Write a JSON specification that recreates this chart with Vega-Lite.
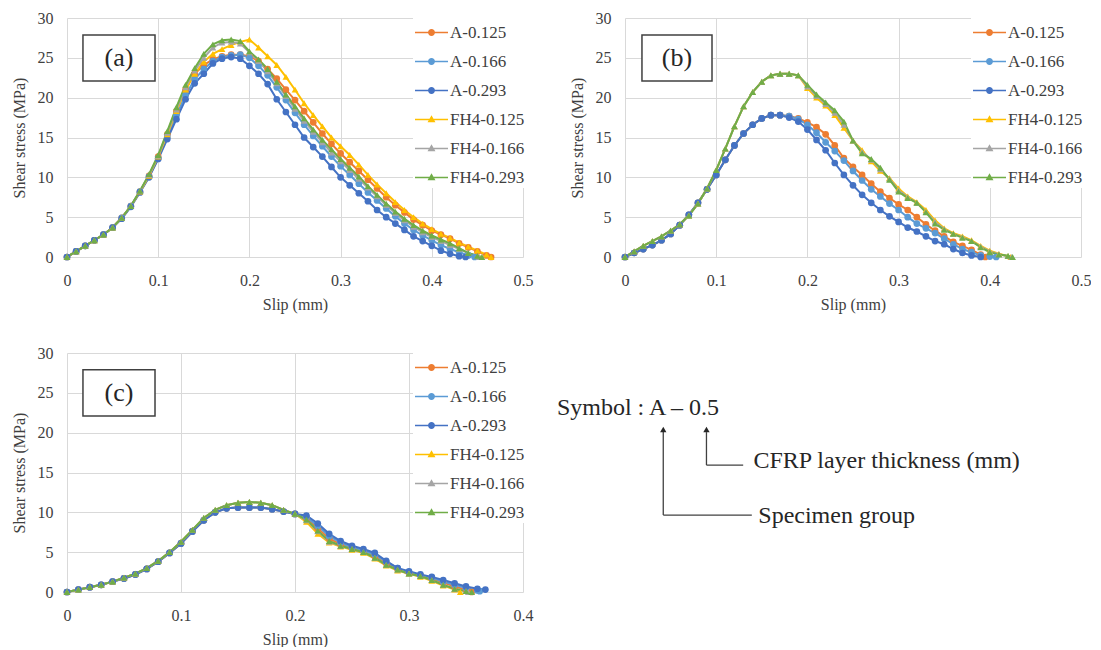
{
"$schema": "https://vega.github.io/schema/vega-lite/v6.json",
"background": "white",
"padding": {"left": 11, "top": 10, "right": 0, "bottom": 0},
"spacing": 33,
"resolve": {"scale": {"color": "independent", "shape": "independent"}, "legend": {"color": "independent", "shape": "independent"}},
"datasets": {
"a": [
{"s":"A-0.125","x":0,"y":0},{"s":"A-0.125","x":0.01,"y":0.7},{"s":"A-0.125","x":0.02,"y":1.4},{"s":"A-0.125","x":0.03,"y":2.1},{"s":"A-0.125","x":0.04,"y":2.8},{"s":"A-0.125","x":0.05,"y":3.7},{"s":"A-0.125","x":0.06,"y":4.9},{"s":"A-0.125","x":0.07,"y":6.4},{"s":"A-0.125","x":0.08,"y":8.2},{"s":"A-0.125","x":0.09,"y":10.2},{"s":"A-0.125","x":0.1,"y":12.6},{"s":"A-0.125","x":0.11,"y":15.4},{"s":"A-0.125","x":0.12,"y":18.3},{"s":"A-0.125","x":0.13,"y":21.0},{"s":"A-0.125","x":0.14,"y":23.0},{"s":"A-0.125","x":0.15,"y":24.1},{"s":"A-0.125","x":0.16,"y":24.8},{"s":"A-0.125","x":0.17,"y":25.2},{"s":"A-0.125","x":0.18,"y":25.4},{"s":"A-0.125","x":0.19,"y":25.4},{"s":"A-0.125","x":0.2,"y":25.2},{"s":"A-0.125","x":0.21,"y":24.6},{"s":"A-0.125","x":0.22,"y":23.6},{"s":"A-0.125","x":0.23,"y":22.4},{"s":"A-0.125","x":0.24,"y":21.0},{"s":"A-0.125","x":0.25,"y":19.7},{"s":"A-0.125","x":0.26,"y":18.3},{"s":"A-0.125","x":0.27,"y":16.9},{"s":"A-0.125","x":0.28,"y":15.5},{"s":"A-0.125","x":0.29,"y":14.2},{"s":"A-0.125","x":0.3,"y":13.0},{"s":"A-0.125","x":0.31,"y":11.9},{"s":"A-0.125","x":0.32,"y":10.8},{"s":"A-0.125","x":0.33,"y":9.7},{"s":"A-0.125","x":0.34,"y":8.6},{"s":"A-0.125","x":0.35,"y":7.5},{"s":"A-0.125","x":0.36,"y":6.5},{"s":"A-0.125","x":0.37,"y":5.6},{"s":"A-0.125","x":0.38,"y":4.7},{"s":"A-0.125","x":0.39,"y":4.0},{"s":"A-0.125","x":0.4,"y":3.3},{"s":"A-0.125","x":0.41,"y":2.8},{"s":"A-0.125","x":0.42,"y":2.3},{"s":"A-0.125","x":0.43,"y":1.7},{"s":"A-0.125","x":0.44,"y":1.2},{"s":"A-0.125","x":0.45,"y":0.7},{"s":"A-0.125","x":0.46,"y":0.2},{"s":"A-0.125","x":0.465,"y":0},
{"s":"A-0.166","x":0,"y":0},{"s":"A-0.166","x":0.01,"y":0.7},{"s":"A-0.166","x":0.02,"y":1.4},{"s":"A-0.166","x":0.03,"y":2.1},{"s":"A-0.166","x":0.04,"y":2.8},{"s":"A-0.166","x":0.05,"y":3.7},{"s":"A-0.166","x":0.06,"y":4.9},{"s":"A-0.166","x":0.07,"y":6.4},{"s":"A-0.166","x":0.08,"y":8.2},{"s":"A-0.166","x":0.09,"y":10.1},{"s":"A-0.166","x":0.1,"y":12.4},{"s":"A-0.166","x":0.11,"y":15.1},{"s":"A-0.166","x":0.12,"y":17.8},{"s":"A-0.166","x":0.13,"y":20.3},{"s":"A-0.166","x":0.14,"y":22.3},{"s":"A-0.166","x":0.15,"y":23.6},{"s":"A-0.166","x":0.16,"y":24.6},{"s":"A-0.166","x":0.17,"y":25.1},{"s":"A-0.166","x":0.18,"y":25.3},{"s":"A-0.166","x":0.19,"y":25.4},{"s":"A-0.166","x":0.2,"y":25.0},{"s":"A-0.166","x":0.21,"y":24.0},{"s":"A-0.166","x":0.22,"y":22.8},{"s":"A-0.166","x":0.23,"y":21.3},{"s":"A-0.166","x":0.24,"y":19.7},{"s":"A-0.166","x":0.25,"y":18.1},{"s":"A-0.166","x":0.26,"y":16.6},{"s":"A-0.166","x":0.27,"y":15.2},{"s":"A-0.166","x":0.28,"y":13.9},{"s":"A-0.166","x":0.29,"y":12.6},{"s":"A-0.166","x":0.3,"y":11.4},{"s":"A-0.166","x":0.31,"y":10.3},{"s":"A-0.166","x":0.32,"y":9.2},{"s":"A-0.166","x":0.33,"y":8.1},{"s":"A-0.166","x":0.34,"y":7.1},{"s":"A-0.166","x":0.35,"y":6.1},{"s":"A-0.166","x":0.36,"y":5.1},{"s":"A-0.166","x":0.37,"y":4.2},{"s":"A-0.166","x":0.38,"y":3.4},{"s":"A-0.166","x":0.39,"y":2.7},{"s":"A-0.166","x":0.4,"y":2.1},{"s":"A-0.166","x":0.41,"y":1.5},{"s":"A-0.166","x":0.42,"y":1.0},{"s":"A-0.166","x":0.43,"y":0.6},{"s":"A-0.166","x":0.44,"y":0.2},{"s":"A-0.166","x":0.447,"y":0},
{"s":"A-0.293","x":0,"y":0},{"s":"A-0.293","x":0.01,"y":0.7},{"s":"A-0.293","x":0.02,"y":1.4},{"s":"A-0.293","x":0.03,"y":2.1},{"s":"A-0.293","x":0.04,"y":2.8},{"s":"A-0.293","x":0.05,"y":3.7},{"s":"A-0.293","x":0.06,"y":4.8},{"s":"A-0.293","x":0.07,"y":6.3},{"s":"A-0.293","x":0.08,"y":8.1},{"s":"A-0.293","x":0.09,"y":10.0},{"s":"A-0.293","x":0.1,"y":12.3},{"s":"A-0.293","x":0.11,"y":14.8},{"s":"A-0.293","x":0.12,"y":17.3},{"s":"A-0.293","x":0.13,"y":19.8},{"s":"A-0.293","x":0.14,"y":21.8},{"s":"A-0.293","x":0.15,"y":23.0},{"s":"A-0.293","x":0.16,"y":24.3},{"s":"A-0.293","x":0.17,"y":24.9},{"s":"A-0.293","x":0.18,"y":25.1},{"s":"A-0.293","x":0.19,"y":24.9},{"s":"A-0.293","x":0.2,"y":24.0},{"s":"A-0.293","x":0.21,"y":23.0},{"s":"A-0.293","x":0.22,"y":21.7},{"s":"A-0.293","x":0.23,"y":19.8},{"s":"A-0.293","x":0.24,"y":18.2},{"s":"A-0.293","x":0.25,"y":16.6},{"s":"A-0.293","x":0.26,"y":15.0},{"s":"A-0.293","x":0.27,"y":13.8},{"s":"A-0.293","x":0.28,"y":12.6},{"s":"A-0.293","x":0.29,"y":11.3},{"s":"A-0.293","x":0.3,"y":10.0},{"s":"A-0.293","x":0.31,"y":9.0},{"s":"A-0.293","x":0.32,"y":8.0},{"s":"A-0.293","x":0.33,"y":7.0},{"s":"A-0.293","x":0.34,"y":5.9},{"s":"A-0.293","x":0.35,"y":5.0},{"s":"A-0.293","x":0.36,"y":4.2},{"s":"A-0.293","x":0.37,"y":3.4},{"s":"A-0.293","x":0.38,"y":2.6},{"s":"A-0.293","x":0.39,"y":2.0},{"s":"A-0.293","x":0.4,"y":1.4},{"s":"A-0.293","x":0.41,"y":0.8},{"s":"A-0.293","x":0.42,"y":0.4},{"s":"A-0.293","x":0.43,"y":0.1},{"s":"A-0.293","x":0.437,"y":0},
{"s":"FH4-0.125","x":0,"y":0},{"s":"FH4-0.125","x":0.01,"y":0.7},{"s":"FH4-0.125","x":0.02,"y":1.4},{"s":"FH4-0.125","x":0.03,"y":2.1},{"s":"FH4-0.125","x":0.04,"y":2.8},{"s":"FH4-0.125","x":0.05,"y":3.7},{"s":"FH4-0.125","x":0.06,"y":4.9},{"s":"FH4-0.125","x":0.07,"y":6.4},{"s":"FH4-0.125","x":0.08,"y":8.2},{"s":"FH4-0.125","x":0.09,"y":10.2},{"s":"FH4-0.125","x":0.1,"y":12.6},{"s":"FH4-0.125","x":0.11,"y":15.4},{"s":"FH4-0.125","x":0.12,"y":18.3},{"s":"FH4-0.125","x":0.13,"y":21.0},{"s":"FH4-0.125","x":0.14,"y":23.0},{"s":"FH4-0.125","x":0.15,"y":24.5},{"s":"FH4-0.125","x":0.16,"y":25.5},{"s":"FH4-0.125","x":0.17,"y":26.1},{"s":"FH4-0.125","x":0.18,"y":26.6},{"s":"FH4-0.125","x":0.19,"y":27.0},{"s":"FH4-0.125","x":0.2,"y":27.3},{"s":"FH4-0.125","x":0.21,"y":26.3},{"s":"FH4-0.125","x":0.22,"y":25.2},{"s":"FH4-0.125","x":0.23,"y":24.1},{"s":"FH4-0.125","x":0.24,"y":22.6},{"s":"FH4-0.125","x":0.25,"y":21.0},{"s":"FH4-0.125","x":0.26,"y":19.3},{"s":"FH4-0.125","x":0.27,"y":17.8},{"s":"FH4-0.125","x":0.28,"y":16.4},{"s":"FH4-0.125","x":0.29,"y":15.0},{"s":"FH4-0.125","x":0.3,"y":13.9},{"s":"FH4-0.125","x":0.31,"y":12.8},{"s":"FH4-0.125","x":0.32,"y":11.6},{"s":"FH4-0.125","x":0.33,"y":10.3},{"s":"FH4-0.125","x":0.34,"y":9.1},{"s":"FH4-0.125","x":0.35,"y":8.0},{"s":"FH4-0.125","x":0.36,"y":6.9},{"s":"FH4-0.125","x":0.37,"y":5.9},{"s":"FH4-0.125","x":0.38,"y":5.0},{"s":"FH4-0.125","x":0.39,"y":4.2},{"s":"FH4-0.125","x":0.4,"y":3.5},{"s":"FH4-0.125","x":0.41,"y":2.9},{"s":"FH4-0.125","x":0.42,"y":2.4},{"s":"FH4-0.125","x":0.43,"y":1.8},{"s":"FH4-0.125","x":0.44,"y":1.3},{"s":"FH4-0.125","x":0.45,"y":0.8},{"s":"FH4-0.125","x":0.46,"y":0.3},{"s":"FH4-0.125","x":0.465,"y":0},
{"s":"FH4-0.166","x":0,"y":0},{"s":"FH4-0.166","x":0.01,"y":0.7},{"s":"FH4-0.166","x":0.02,"y":1.4},{"s":"FH4-0.166","x":0.03,"y":2.1},{"s":"FH4-0.166","x":0.04,"y":2.8},{"s":"FH4-0.166","x":0.05,"y":3.7},{"s":"FH4-0.166","x":0.06,"y":4.9},{"s":"FH4-0.166","x":0.07,"y":6.4},{"s":"FH4-0.166","x":0.08,"y":8.3},{"s":"FH4-0.166","x":0.09,"y":10.3},{"s":"FH4-0.166","x":0.1,"y":12.7},{"s":"FH4-0.166","x":0.11,"y":15.6},{"s":"FH4-0.166","x":0.12,"y":18.5},{"s":"FH4-0.166","x":0.13,"y":21.3},{"s":"FH4-0.166","x":0.14,"y":23.4},{"s":"FH4-0.166","x":0.15,"y":25.0},{"s":"FH4-0.166","x":0.16,"y":26.3},{"s":"FH4-0.166","x":0.17,"y":26.9},{"s":"FH4-0.166","x":0.18,"y":27.0},{"s":"FH4-0.166","x":0.19,"y":26.8},{"s":"FH4-0.166","x":0.2,"y":25.7},{"s":"FH4-0.166","x":0.21,"y":24.6},{"s":"FH4-0.166","x":0.22,"y":23.3},{"s":"FH4-0.166","x":0.23,"y":21.8},{"s":"FH4-0.166","x":0.24,"y":20.2},{"s":"FH4-0.166","x":0.25,"y":18.6},{"s":"FH4-0.166","x":0.26,"y":17.1},{"s":"FH4-0.166","x":0.27,"y":15.7},{"s":"FH4-0.166","x":0.28,"y":14.4},{"s":"FH4-0.166","x":0.29,"y":13.1},{"s":"FH4-0.166","x":0.3,"y":12.0},{"s":"FH4-0.166","x":0.31,"y":10.9},{"s":"FH4-0.166","x":0.32,"y":9.8},{"s":"FH4-0.166","x":0.33,"y":8.7},{"s":"FH4-0.166","x":0.34,"y":7.6},{"s":"FH4-0.166","x":0.35,"y":6.5},{"s":"FH4-0.166","x":0.36,"y":5.5},{"s":"FH4-0.166","x":0.37,"y":4.6},{"s":"FH4-0.166","x":0.38,"y":3.8},{"s":"FH4-0.166","x":0.39,"y":3.1},{"s":"FH4-0.166","x":0.4,"y":2.5},{"s":"FH4-0.166","x":0.41,"y":2.0},{"s":"FH4-0.166","x":0.42,"y":1.5},{"s":"FH4-0.166","x":0.43,"y":1.0},{"s":"FH4-0.166","x":0.44,"y":0.5},{"s":"FH4-0.166","x":0.45,"y":0.1},{"s":"FH4-0.166","x":0.452,"y":0},
{"s":"FH4-0.293","x":0,"y":0},{"s":"FH4-0.293","x":0.01,"y":0.7},{"s":"FH4-0.293","x":0.02,"y":1.4},{"s":"FH4-0.293","x":0.03,"y":2.1},{"s":"FH4-0.293","x":0.04,"y":2.8},{"s":"FH4-0.293","x":0.05,"y":3.7},{"s":"FH4-0.293","x":0.06,"y":4.9},{"s":"FH4-0.293","x":0.07,"y":6.4},{"s":"FH4-0.293","x":0.08,"y":8.3},{"s":"FH4-0.293","x":0.09,"y":10.4},{"s":"FH4-0.293","x":0.1,"y":12.8},{"s":"FH4-0.293","x":0.11,"y":15.8},{"s":"FH4-0.293","x":0.12,"y":18.8},{"s":"FH4-0.293","x":0.13,"y":21.6},{"s":"FH4-0.293","x":0.14,"y":23.7},{"s":"FH4-0.293","x":0.15,"y":25.5},{"s":"FH4-0.293","x":0.16,"y":26.7},{"s":"FH4-0.293","x":0.17,"y":27.2},{"s":"FH4-0.293","x":0.18,"y":27.3},{"s":"FH4-0.293","x":0.19,"y":27.1},{"s":"FH4-0.293","x":0.2,"y":25.8},{"s":"FH4-0.293","x":0.21,"y":24.8},{"s":"FH4-0.293","x":0.22,"y":23.6},{"s":"FH4-0.293","x":0.23,"y":22.0},{"s":"FH4-0.293","x":0.24,"y":20.4},{"s":"FH4-0.293","x":0.25,"y":18.9},{"s":"FH4-0.293","x":0.26,"y":17.4},{"s":"FH4-0.293","x":0.27,"y":16.0},{"s":"FH4-0.293","x":0.28,"y":14.7},{"s":"FH4-0.293","x":0.29,"y":13.5},{"s":"FH4-0.293","x":0.3,"y":12.3},{"s":"FH4-0.293","x":0.31,"y":11.2},{"s":"FH4-0.293","x":0.32,"y":10.1},{"s":"FH4-0.293","x":0.33,"y":8.9},{"s":"FH4-0.293","x":0.34,"y":7.8},{"s":"FH4-0.293","x":0.35,"y":6.7},{"s":"FH4-0.293","x":0.36,"y":5.7},{"s":"FH4-0.293","x":0.37,"y":4.8},{"s":"FH4-0.293","x":0.38,"y":4.0},{"s":"FH4-0.293","x":0.39,"y":3.3},{"s":"FH4-0.293","x":0.4,"y":2.7},{"s":"FH4-0.293","x":0.41,"y":2.2},{"s":"FH4-0.293","x":0.42,"y":1.7},{"s":"FH4-0.293","x":0.43,"y":1.1},{"s":"FH4-0.293","x":0.44,"y":0.5},{"s":"FH4-0.293","x":0.45,"y":0.15},{"s":"FH4-0.293","x":0.455,"y":0}
],
"b": [
{"s":"A-0.125","x":0,"y":0},{"s":"A-0.125","x":0.01,"y":0.5},{"s":"A-0.125","x":0.02,"y":1.0},{"s":"A-0.125","x":0.03,"y":1.5},{"s":"A-0.125","x":0.04,"y":2.1},{"s":"A-0.125","x":0.05,"y":2.9},{"s":"A-0.125","x":0.06,"y":4.0},{"s":"A-0.125","x":0.07,"y":5.3},{"s":"A-0.125","x":0.08,"y":6.8},{"s":"A-0.125","x":0.09,"y":8.5},{"s":"A-0.125","x":0.1,"y":10.3},{"s":"A-0.125","x":0.11,"y":12.2},{"s":"A-0.125","x":0.12,"y":14.0},{"s":"A-0.125","x":0.13,"y":15.5},{"s":"A-0.125","x":0.14,"y":16.6},{"s":"A-0.125","x":0.15,"y":17.4},{"s":"A-0.125","x":0.16,"y":17.8},{"s":"A-0.125","x":0.17,"y":17.8},{"s":"A-0.125","x":0.18,"y":17.7},{"s":"A-0.125","x":0.19,"y":17.4},{"s":"A-0.125","x":0.2,"y":16.9},{"s":"A-0.125","x":0.21,"y":16.3},{"s":"A-0.125","x":0.22,"y":15.4},{"s":"A-0.125","x":0.23,"y":14.0},{"s":"A-0.125","x":0.24,"y":12.4},{"s":"A-0.125","x":0.25,"y":11.3},{"s":"A-0.125","x":0.26,"y":10.3},{"s":"A-0.125","x":0.27,"y":9.2},{"s":"A-0.125","x":0.28,"y":8.2},{"s":"A-0.125","x":0.29,"y":7.4},{"s":"A-0.125","x":0.3,"y":6.6},{"s":"A-0.125","x":0.31,"y":5.9},{"s":"A-0.125","x":0.32,"y":5.0},{"s":"A-0.125","x":0.33,"y":4.1},{"s":"A-0.125","x":0.34,"y":3.3},{"s":"A-0.125","x":0.35,"y":2.6},{"s":"A-0.125","x":0.36,"y":1.9},{"s":"A-0.125","x":0.37,"y":1.4},{"s":"A-0.125","x":0.38,"y":0.9},{"s":"A-0.125","x":0.39,"y":0.3},{"s":"A-0.125","x":0.395,"y":0},
{"s":"A-0.166","x":0,"y":0},{"s":"A-0.166","x":0.01,"y":0.5},{"s":"A-0.166","x":0.02,"y":1.0},{"s":"A-0.166","x":0.03,"y":1.5},{"s":"A-0.166","x":0.04,"y":2.1},{"s":"A-0.166","x":0.05,"y":2.9},{"s":"A-0.166","x":0.06,"y":4.0},{"s":"A-0.166","x":0.07,"y":5.3},{"s":"A-0.166","x":0.08,"y":6.8},{"s":"A-0.166","x":0.09,"y":8.5},{"s":"A-0.166","x":0.1,"y":10.3},{"s":"A-0.166","x":0.11,"y":12.2},{"s":"A-0.166","x":0.12,"y":14.0},{"s":"A-0.166","x":0.13,"y":15.5},{"s":"A-0.166","x":0.14,"y":16.6},{"s":"A-0.166","x":0.15,"y":17.4},{"s":"A-0.166","x":0.16,"y":17.8},{"s":"A-0.166","x":0.17,"y":17.8},{"s":"A-0.166","x":0.18,"y":17.7},{"s":"A-0.166","x":0.19,"y":17.3},{"s":"A-0.166","x":0.2,"y":16.6},{"s":"A-0.166","x":0.21,"y":15.6},{"s":"A-0.166","x":0.22,"y":14.4},{"s":"A-0.166","x":0.23,"y":13.3},{"s":"A-0.166","x":0.24,"y":12.1},{"s":"A-0.166","x":0.25,"y":10.8},{"s":"A-0.166","x":0.26,"y":9.6},{"s":"A-0.166","x":0.27,"y":8.5},{"s":"A-0.166","x":0.28,"y":7.6},{"s":"A-0.166","x":0.29,"y":6.7},{"s":"A-0.166","x":0.3,"y":5.9},{"s":"A-0.166","x":0.31,"y":5.0},{"s":"A-0.166","x":0.32,"y":4.2},{"s":"A-0.166","x":0.33,"y":3.6},{"s":"A-0.166","x":0.34,"y":3.0},{"s":"A-0.166","x":0.35,"y":2.3},{"s":"A-0.166","x":0.36,"y":1.6},{"s":"A-0.166","x":0.37,"y":1.0},{"s":"A-0.166","x":0.38,"y":0.6},{"s":"A-0.166","x":0.39,"y":0.2},{"s":"A-0.166","x":0.4,"y":0.05},{"s":"A-0.166","x":0.407,"y":0},
{"s":"A-0.293","x":0,"y":0},{"s":"A-0.293","x":0.01,"y":0.5},{"s":"A-0.293","x":0.02,"y":1.0},{"s":"A-0.293","x":0.03,"y":1.5},{"s":"A-0.293","x":0.04,"y":2.1},{"s":"A-0.293","x":0.05,"y":2.9},{"s":"A-0.293","x":0.06,"y":4.0},{"s":"A-0.293","x":0.07,"y":5.3},{"s":"A-0.293","x":0.08,"y":6.8},{"s":"A-0.293","x":0.09,"y":8.5},{"s":"A-0.293","x":0.1,"y":10.3},{"s":"A-0.293","x":0.11,"y":12.2},{"s":"A-0.293","x":0.12,"y":14.0},{"s":"A-0.293","x":0.13,"y":15.5},{"s":"A-0.293","x":0.14,"y":16.6},{"s":"A-0.293","x":0.15,"y":17.4},{"s":"A-0.293","x":0.16,"y":17.8},{"s":"A-0.293","x":0.17,"y":17.8},{"s":"A-0.293","x":0.18,"y":17.5},{"s":"A-0.293","x":0.19,"y":17.0},{"s":"A-0.293","x":0.2,"y":16.0},{"s":"A-0.293","x":0.21,"y":14.7},{"s":"A-0.293","x":0.22,"y":13.4},{"s":"A-0.293","x":0.23,"y":11.8},{"s":"A-0.293","x":0.24,"y":10.3},{"s":"A-0.293","x":0.25,"y":9.0},{"s":"A-0.293","x":0.26,"y":7.8},{"s":"A-0.293","x":0.27,"y":6.8},{"s":"A-0.293","x":0.28,"y":5.9},{"s":"A-0.293","x":0.29,"y":5.1},{"s":"A-0.293","x":0.3,"y":4.4},{"s":"A-0.293","x":0.31,"y":3.7},{"s":"A-0.293","x":0.32,"y":3.2},{"s":"A-0.293","x":0.33,"y":2.6},{"s":"A-0.293","x":0.34,"y":2.0},{"s":"A-0.293","x":0.35,"y":1.6},{"s":"A-0.293","x":0.36,"y":1.0},{"s":"A-0.293","x":0.37,"y":0.5},{"s":"A-0.293","x":0.38,"y":0.2},{"s":"A-0.293","x":0.39,"y":0},
{"s":"FH4-0.125","x":0,"y":0},{"s":"FH4-0.125","x":0.01,"y":0.7},{"s":"FH4-0.125","x":0.02,"y":1.4},{"s":"FH4-0.125","x":0.03,"y":2.0},{"s":"FH4-0.125","x":0.04,"y":2.6},{"s":"FH4-0.125","x":0.05,"y":3.3},{"s":"FH4-0.125","x":0.06,"y":4.1},{"s":"FH4-0.125","x":0.07,"y":5.2},{"s":"FH4-0.125","x":0.08,"y":6.7},{"s":"FH4-0.125","x":0.09,"y":8.6},{"s":"FH4-0.125","x":0.1,"y":10.9},{"s":"FH4-0.125","x":0.11,"y":13.6},{"s":"FH4-0.125","x":0.12,"y":16.4},{"s":"FH4-0.125","x":0.13,"y":18.9},{"s":"FH4-0.125","x":0.14,"y":20.7},{"s":"FH4-0.125","x":0.15,"y":22.0},{"s":"FH4-0.125","x":0.16,"y":22.8},{"s":"FH4-0.125","x":0.17,"y":23.0},{"s":"FH4-0.125","x":0.18,"y":23.0},{"s":"FH4-0.125","x":0.19,"y":22.8},{"s":"FH4-0.125","x":0.2,"y":21.2},{"s":"FH4-0.125","x":0.21,"y":20.0},{"s":"FH4-0.125","x":0.22,"y":19.0},{"s":"FH4-0.125","x":0.23,"y":17.8},{"s":"FH4-0.125","x":0.24,"y":16.2},{"s":"FH4-0.125","x":0.25,"y":14.6},{"s":"FH4-0.125","x":0.26,"y":13.4},{"s":"FH4-0.125","x":0.27,"y":12.0},{"s":"FH4-0.125","x":0.28,"y":10.8},{"s":"FH4-0.125","x":0.29,"y":9.9},{"s":"FH4-0.125","x":0.3,"y":8.6},{"s":"FH4-0.125","x":0.31,"y":7.6},{"s":"FH4-0.125","x":0.32,"y":6.9},{"s":"FH4-0.125","x":0.33,"y":5.9},{"s":"FH4-0.125","x":0.34,"y":4.6},{"s":"FH4-0.125","x":0.35,"y":3.6},{"s":"FH4-0.125","x":0.36,"y":3.0},{"s":"FH4-0.125","x":0.37,"y":2.6},{"s":"FH4-0.125","x":0.38,"y":2.1},{"s":"FH4-0.125","x":0.39,"y":1.4},{"s":"FH4-0.125","x":0.4,"y":0.8},{"s":"FH4-0.125","x":0.41,"y":0.4},{"s":"FH4-0.125","x":0.42,"y":0.1},{"s":"FH4-0.125","x":0.423,"y":0},
{"s":"FH4-0.166","x":0,"y":0},{"s":"FH4-0.166","x":0.01,"y":0.7},{"s":"FH4-0.166","x":0.02,"y":1.4},{"s":"FH4-0.166","x":0.03,"y":2.0},{"s":"FH4-0.166","x":0.04,"y":2.6},{"s":"FH4-0.166","x":0.05,"y":3.3},{"s":"FH4-0.166","x":0.06,"y":4.1},{"s":"FH4-0.166","x":0.07,"y":5.2},{"s":"FH4-0.166","x":0.08,"y":6.7},{"s":"FH4-0.166","x":0.09,"y":8.6},{"s":"FH4-0.166","x":0.1,"y":10.9},{"s":"FH4-0.166","x":0.11,"y":13.6},{"s":"FH4-0.166","x":0.12,"y":16.4},{"s":"FH4-0.166","x":0.13,"y":18.9},{"s":"FH4-0.166","x":0.14,"y":20.7},{"s":"FH4-0.166","x":0.15,"y":22.0},{"s":"FH4-0.166","x":0.16,"y":22.8},{"s":"FH4-0.166","x":0.17,"y":23.0},{"s":"FH4-0.166","x":0.18,"y":23.0},{"s":"FH4-0.166","x":0.19,"y":22.8},{"s":"FH4-0.166","x":0.2,"y":21.4},{"s":"FH4-0.166","x":0.21,"y":20.2},{"s":"FH4-0.166","x":0.22,"y":19.2},{"s":"FH4-0.166","x":0.23,"y":18.1},{"s":"FH4-0.166","x":0.24,"y":16.6},{"s":"FH4-0.166","x":0.25,"y":14.6},{"s":"FH4-0.166","x":0.26,"y":13.2},{"s":"FH4-0.166","x":0.27,"y":12.2},{"s":"FH4-0.166","x":0.28,"y":11.0},{"s":"FH4-0.166","x":0.29,"y":9.8},{"s":"FH4-0.166","x":0.3,"y":8.4},{"s":"FH4-0.166","x":0.31,"y":7.5},{"s":"FH4-0.166","x":0.32,"y":6.8},{"s":"FH4-0.166","x":0.33,"y":5.7},{"s":"FH4-0.166","x":0.34,"y":4.4},{"s":"FH4-0.166","x":0.35,"y":3.5},{"s":"FH4-0.166","x":0.36,"y":2.9},{"s":"FH4-0.166","x":0.37,"y":2.5},{"s":"FH4-0.166","x":0.38,"y":2.0},{"s":"FH4-0.166","x":0.39,"y":1.3},{"s":"FH4-0.166","x":0.4,"y":0.7},{"s":"FH4-0.166","x":0.41,"y":0.35},{"s":"FH4-0.166","x":0.42,"y":0.1},{"s":"FH4-0.166","x":0.424,"y":0},
{"s":"FH4-0.293","x":0,"y":0},{"s":"FH4-0.293","x":0.01,"y":0.7},{"s":"FH4-0.293","x":0.02,"y":1.4},{"s":"FH4-0.293","x":0.03,"y":2.0},{"s":"FH4-0.293","x":0.04,"y":2.6},{"s":"FH4-0.293","x":0.05,"y":3.3},{"s":"FH4-0.293","x":0.06,"y":4.1},{"s":"FH4-0.293","x":0.07,"y":5.2},{"s":"FH4-0.293","x":0.08,"y":6.7},{"s":"FH4-0.293","x":0.09,"y":8.6},{"s":"FH4-0.293","x":0.1,"y":10.9},{"s":"FH4-0.293","x":0.11,"y":13.6},{"s":"FH4-0.293","x":0.12,"y":16.4},{"s":"FH4-0.293","x":0.13,"y":18.9},{"s":"FH4-0.293","x":0.14,"y":20.7},{"s":"FH4-0.293","x":0.15,"y":22.0},{"s":"FH4-0.293","x":0.16,"y":22.8},{"s":"FH4-0.293","x":0.17,"y":23.0},{"s":"FH4-0.293","x":0.18,"y":23.0},{"s":"FH4-0.293","x":0.19,"y":22.8},{"s":"FH4-0.293","x":0.2,"y":21.6},{"s":"FH4-0.293","x":0.21,"y":20.4},{"s":"FH4-0.293","x":0.22,"y":19.4},{"s":"FH4-0.293","x":0.23,"y":18.4},{"s":"FH4-0.293","x":0.24,"y":17.0},{"s":"FH4-0.293","x":0.25,"y":14.6},{"s":"FH4-0.293","x":0.26,"y":13.0},{"s":"FH4-0.293","x":0.27,"y":12.3},{"s":"FH4-0.293","x":0.28,"y":11.2},{"s":"FH4-0.293","x":0.29,"y":9.7},{"s":"FH4-0.293","x":0.3,"y":8.2},{"s":"FH4-0.293","x":0.31,"y":7.4},{"s":"FH4-0.293","x":0.32,"y":6.8},{"s":"FH4-0.293","x":0.33,"y":5.6},{"s":"FH4-0.293","x":0.34,"y":4.2},{"s":"FH4-0.293","x":0.35,"y":3.4},{"s":"FH4-0.293","x":0.36,"y":2.9},{"s":"FH4-0.293","x":0.37,"y":2.4},{"s":"FH4-0.293","x":0.38,"y":2.0},{"s":"FH4-0.293","x":0.39,"y":1.2},{"s":"FH4-0.293","x":0.4,"y":0.6},{"s":"FH4-0.293","x":0.41,"y":0.3},{"s":"FH4-0.293","x":0.42,"y":0.15},{"s":"FH4-0.293","x":0.425,"y":0}
],
"c": [
{"s":"A-0.125","x":0,"y":0},{"s":"A-0.125","x":0.01,"y":0.3},{"s":"A-0.125","x":0.02,"y":0.6},{"s":"A-0.125","x":0.03,"y":0.9},{"s":"A-0.125","x":0.04,"y":1.3},{"s":"A-0.125","x":0.05,"y":1.7},{"s":"A-0.125","x":0.06,"y":2.2},{"s":"A-0.125","x":0.07,"y":2.9},{"s":"A-0.125","x":0.08,"y":3.8},{"s":"A-0.125","x":0.09,"y":4.9},{"s":"A-0.125","x":0.1,"y":6.1},{"s":"A-0.125","x":0.11,"y":7.6},{"s":"A-0.125","x":0.12,"y":9.0},{"s":"A-0.125","x":0.13,"y":10.0},{"s":"A-0.125","x":0.14,"y":10.5},{"s":"A-0.125","x":0.15,"y":10.6},{"s":"A-0.125","x":0.16,"y":10.6},{"s":"A-0.125","x":0.17,"y":10.6},{"s":"A-0.125","x":0.18,"y":10.4},{"s":"A-0.125","x":0.19,"y":10.1},{"s":"A-0.125","x":0.2,"y":9.8},{"s":"A-0.125","x":0.21,"y":9.3},{"s":"A-0.125","x":0.22,"y":8.0},{"s":"A-0.125","x":0.23,"y":6.7},{"s":"A-0.125","x":0.24,"y":6.0},{"s":"A-0.125","x":0.25,"y":5.5},{"s":"A-0.125","x":0.26,"y":5.1},{"s":"A-0.125","x":0.27,"y":4.5},{"s":"A-0.125","x":0.28,"y":3.6},{"s":"A-0.125","x":0.29,"y":2.9},{"s":"A-0.125","x":0.3,"y":2.4},{"s":"A-0.125","x":0.31,"y":2.1},{"s":"A-0.125","x":0.32,"y":1.7},{"s":"A-0.125","x":0.33,"y":1.2},{"s":"A-0.125","x":0.34,"y":0.7},{"s":"A-0.125","x":0.35,"y":0.3},{"s":"A-0.125","x":0.355,"y":0},
{"s":"A-0.166","x":0,"y":0},{"s":"A-0.166","x":0.01,"y":0.3},{"s":"A-0.166","x":0.02,"y":0.6},{"s":"A-0.166","x":0.03,"y":0.9},{"s":"A-0.166","x":0.04,"y":1.3},{"s":"A-0.166","x":0.05,"y":1.7},{"s":"A-0.166","x":0.06,"y":2.2},{"s":"A-0.166","x":0.07,"y":2.9},{"s":"A-0.166","x":0.08,"y":3.8},{"s":"A-0.166","x":0.09,"y":4.9},{"s":"A-0.166","x":0.1,"y":6.1},{"s":"A-0.166","x":0.11,"y":7.6},{"s":"A-0.166","x":0.12,"y":9.0},{"s":"A-0.166","x":0.13,"y":10.0},{"s":"A-0.166","x":0.14,"y":10.5},{"s":"A-0.166","x":0.15,"y":10.6},{"s":"A-0.166","x":0.16,"y":10.6},{"s":"A-0.166","x":0.17,"y":10.6},{"s":"A-0.166","x":0.18,"y":10.4},{"s":"A-0.166","x":0.19,"y":10.1},{"s":"A-0.166","x":0.2,"y":9.8},{"s":"A-0.166","x":0.21,"y":9.4},{"s":"A-0.166","x":0.22,"y":8.3},{"s":"A-0.166","x":0.23,"y":7.0},{"s":"A-0.166","x":0.24,"y":6.2},{"s":"A-0.166","x":0.25,"y":5.6},{"s":"A-0.166","x":0.26,"y":5.2},{"s":"A-0.166","x":0.27,"y":4.7},{"s":"A-0.166","x":0.28,"y":3.8},{"s":"A-0.166","x":0.29,"y":3.0},{"s":"A-0.166","x":0.3,"y":2.5},{"s":"A-0.166","x":0.31,"y":2.1},{"s":"A-0.166","x":0.32,"y":1.8},{"s":"A-0.166","x":0.33,"y":1.3},{"s":"A-0.166","x":0.34,"y":0.9},{"s":"A-0.166","x":0.35,"y":0.5},{"s":"A-0.166","x":0.36,"y":0.2},{"s":"A-0.166","x":0.362,"y":0.1},
{"s":"A-0.293","x":0,"y":0},{"s":"A-0.293","x":0.01,"y":0.3},{"s":"A-0.293","x":0.02,"y":0.6},{"s":"A-0.293","x":0.03,"y":0.9},{"s":"A-0.293","x":0.04,"y":1.3},{"s":"A-0.293","x":0.05,"y":1.7},{"s":"A-0.293","x":0.06,"y":2.2},{"s":"A-0.293","x":0.07,"y":2.9},{"s":"A-0.293","x":0.08,"y":3.8},{"s":"A-0.293","x":0.09,"y":4.9},{"s":"A-0.293","x":0.1,"y":6.1},{"s":"A-0.293","x":0.11,"y":7.6},{"s":"A-0.293","x":0.12,"y":9.0},{"s":"A-0.293","x":0.13,"y":10.0},{"s":"A-0.293","x":0.14,"y":10.5},{"s":"A-0.293","x":0.15,"y":10.6},{"s":"A-0.293","x":0.16,"y":10.6},{"s":"A-0.293","x":0.17,"y":10.6},{"s":"A-0.293","x":0.18,"y":10.4},{"s":"A-0.293","x":0.19,"y":10.1},{"s":"A-0.293","x":0.2,"y":9.8},{"s":"A-0.293","x":0.21,"y":9.6},{"s":"A-0.293","x":0.22,"y":8.6},{"s":"A-0.293","x":0.23,"y":7.3},{"s":"A-0.293","x":0.24,"y":6.4},{"s":"A-0.293","x":0.25,"y":5.8},{"s":"A-0.293","x":0.26,"y":5.4},{"s":"A-0.293","x":0.27,"y":4.9},{"s":"A-0.293","x":0.28,"y":3.9},{"s":"A-0.293","x":0.29,"y":3.0},{"s":"A-0.293","x":0.3,"y":2.6},{"s":"A-0.293","x":0.31,"y":2.2},{"s":"A-0.293","x":0.32,"y":1.9},{"s":"A-0.293","x":0.33,"y":1.5},{"s":"A-0.293","x":0.34,"y":1.1},{"s":"A-0.293","x":0.35,"y":0.7},{"s":"A-0.293","x":0.36,"y":0.4},{"s":"A-0.293","x":0.367,"y":0.3},
{"s":"FH4-0.125","x":0,"y":0},{"s":"FH4-0.125","x":0.01,"y":0.3},{"s":"FH4-0.125","x":0.02,"y":0.6},{"s":"FH4-0.125","x":0.03,"y":0.9},{"s":"FH4-0.125","x":0.04,"y":1.3},{"s":"FH4-0.125","x":0.05,"y":1.8},{"s":"FH4-0.125","x":0.06,"y":2.3},{"s":"FH4-0.125","x":0.07,"y":3.0},{"s":"FH4-0.125","x":0.08,"y":3.9},{"s":"FH4-0.125","x":0.09,"y":5.0},{"s":"FH4-0.125","x":0.1,"y":6.3},{"s":"FH4-0.125","x":0.11,"y":7.8},{"s":"FH4-0.125","x":0.12,"y":9.3},{"s":"FH4-0.125","x":0.13,"y":10.3},{"s":"FH4-0.125","x":0.14,"y":10.9},{"s":"FH4-0.125","x":0.15,"y":11.2},{"s":"FH4-0.125","x":0.16,"y":11.3},{"s":"FH4-0.125","x":0.17,"y":11.2},{"s":"FH4-0.125","x":0.18,"y":10.9},{"s":"FH4-0.125","x":0.19,"y":10.3},{"s":"FH4-0.125","x":0.2,"y":9.8},{"s":"FH4-0.125","x":0.21,"y":8.8},{"s":"FH4-0.125","x":0.22,"y":7.3},{"s":"FH4-0.125","x":0.23,"y":6.2},{"s":"FH4-0.125","x":0.24,"y":5.7},{"s":"FH4-0.125","x":0.25,"y":5.3},{"s":"FH4-0.125","x":0.26,"y":4.9},{"s":"FH4-0.125","x":0.27,"y":4.2},{"s":"FH4-0.125","x":0.28,"y":3.3},{"s":"FH4-0.125","x":0.29,"y":2.7},{"s":"FH4-0.125","x":0.3,"y":2.3},{"s":"FH4-0.125","x":0.31,"y":1.9},{"s":"FH4-0.125","x":0.32,"y":1.4},{"s":"FH4-0.125","x":0.33,"y":0.8},{"s":"FH4-0.125","x":0.34,"y":0.3},{"s":"FH4-0.125","x":0.345,"y":0},
{"s":"FH4-0.166","x":0,"y":0},{"s":"FH4-0.166","x":0.01,"y":0.3},{"s":"FH4-0.166","x":0.02,"y":0.6},{"s":"FH4-0.166","x":0.03,"y":0.9},{"s":"FH4-0.166","x":0.04,"y":1.3},{"s":"FH4-0.166","x":0.05,"y":1.8},{"s":"FH4-0.166","x":0.06,"y":2.3},{"s":"FH4-0.166","x":0.07,"y":3.0},{"s":"FH4-0.166","x":0.08,"y":3.9},{"s":"FH4-0.166","x":0.09,"y":5.0},{"s":"FH4-0.166","x":0.1,"y":6.3},{"s":"FH4-0.166","x":0.11,"y":7.8},{"s":"FH4-0.166","x":0.12,"y":9.3},{"s":"FH4-0.166","x":0.13,"y":10.3},{"s":"FH4-0.166","x":0.14,"y":10.9},{"s":"FH4-0.166","x":0.15,"y":11.2},{"s":"FH4-0.166","x":0.16,"y":11.3},{"s":"FH4-0.166","x":0.17,"y":11.2},{"s":"FH4-0.166","x":0.18,"y":10.9},{"s":"FH4-0.166","x":0.19,"y":10.3},{"s":"FH4-0.166","x":0.2,"y":9.8},{"s":"FH4-0.166","x":0.21,"y":9.0},{"s":"FH4-0.166","x":0.22,"y":7.6},{"s":"FH4-0.166","x":0.23,"y":6.3},{"s":"FH4-0.166","x":0.24,"y":5.8},{"s":"FH4-0.166","x":0.25,"y":5.4},{"s":"FH4-0.166","x":0.26,"y":5.0},{"s":"FH4-0.166","x":0.27,"y":4.3},{"s":"FH4-0.166","x":0.28,"y":3.4},{"s":"FH4-0.166","x":0.29,"y":2.8},{"s":"FH4-0.166","x":0.3,"y":2.3},{"s":"FH4-0.166","x":0.31,"y":2.0},{"s":"FH4-0.166","x":0.32,"y":1.5},{"s":"FH4-0.166","x":0.33,"y":0.9},{"s":"FH4-0.166","x":0.34,"y":0.4},{"s":"FH4-0.166","x":0.35,"y":0.1},{"s":"FH4-0.166","x":0.352,"y":0},
{"s":"FH4-0.293","x":0,"y":0},{"s":"FH4-0.293","x":0.01,"y":0.3},{"s":"FH4-0.293","x":0.02,"y":0.6},{"s":"FH4-0.293","x":0.03,"y":0.9},{"s":"FH4-0.293","x":0.04,"y":1.3},{"s":"FH4-0.293","x":0.05,"y":1.8},{"s":"FH4-0.293","x":0.06,"y":2.3},{"s":"FH4-0.293","x":0.07,"y":3.0},{"s":"FH4-0.293","x":0.08,"y":3.9},{"s":"FH4-0.293","x":0.09,"y":5.0},{"s":"FH4-0.293","x":0.1,"y":6.3},{"s":"FH4-0.293","x":0.11,"y":7.8},{"s":"FH4-0.293","x":0.12,"y":9.3},{"s":"FH4-0.293","x":0.13,"y":10.3},{"s":"FH4-0.293","x":0.14,"y":10.9},{"s":"FH4-0.293","x":0.15,"y":11.2},{"s":"FH4-0.293","x":0.16,"y":11.3},{"s":"FH4-0.293","x":0.17,"y":11.2},{"s":"FH4-0.293","x":0.18,"y":10.9},{"s":"FH4-0.293","x":0.19,"y":10.3},{"s":"FH4-0.293","x":0.2,"y":9.8},{"s":"FH4-0.293","x":0.21,"y":9.1},{"s":"FH4-0.293","x":0.22,"y":7.7},{"s":"FH4-0.293","x":0.23,"y":6.4},{"s":"FH4-0.293","x":0.24,"y":5.8},{"s":"FH4-0.293","x":0.25,"y":5.4},{"s":"FH4-0.293","x":0.26,"y":5.0},{"s":"FH4-0.293","x":0.27,"y":4.3},{"s":"FH4-0.293","x":0.28,"y":3.4},{"s":"FH4-0.293","x":0.29,"y":2.8},{"s":"FH4-0.293","x":0.3,"y":2.3},{"s":"FH4-0.293","x":0.31,"y":2.0},{"s":"FH4-0.293","x":0.32,"y":1.5},{"s":"FH4-0.293","x":0.33,"y":0.9},{"s":"FH4-0.293","x":0.34,"y":0.4},{"s":"FH4-0.293","x":0.35,"y":0.1},{"s":"FH4-0.293","x":0.355,"y":0}
]
},
"vconcat": [
{
"hconcat": [
{
"width": 456, "height": 239,
"resolve": {"scale": {"color": "independent", "shape": "independent"}},
"encoding": {
"x": {"field": "x", "type": "quantitative", "scale": {"domain": [0, 0.5], "nice": false, "zero": false}, "axis": {"values": [0, 0.1, 0.2, 0.3, 0.4, 0.5], "format": ".1~f", "title": "Slip (mm)"}},
"y": {"field": "y", "type": "quantitative", "scale": {"domain": [0, 30], "nice": false}, "axis": {"values": [0, 5, 10, 15, 20, 25, 30], "title": "Shear stress (MPa)"}}
},
"layer": [
{"data": {"values": [{"x": 0.0175, "x2": 0.0965, "y": 22.09, "y2": 27.87}]}, "mark": {"type": "rect", "fill": "white", "stroke": "#404040", "strokeWidth": 1.5}, "encoding": {"x2": {"field": "x2"}, "y2": {"field": "y2"}}},
{"data": {"values": [{"x": 0.057, "y": 25.0, "t": "(a)"}]}, "mark": {"type": "text", "font": "Liberation Serif", "fontSize": 26, "color": "#262626", "align": "center", "baseline": "middle"}, "encoding": {"text": {"field": "t"}}},
{"data": {"name": "a"}, "mark": {"type": "line", "strokeWidth": 2}, "encoding": {"color": {"field": "s", "type": "nominal", "scale": {"domain": ["A-0.125", "A-0.166", "A-0.293", "FH4-0.125", "FH4-0.166", "FH4-0.293"], "range": ["#ED7D31", "#5B9BD5", "#4472C4", "#FFC000", "#A5A5A5", "#70AD47"]}, "legend": null}}},
{"data": {"name": "a"}, "mark": {"type": "point", "filled": true, "size": 45, "opacity": 1}, "encoding": {"color": {"field": "s", "type": "nominal", "scale": {"domain": ["A-0.125", "A-0.166", "A-0.293", "FH4-0.125", "FH4-0.166", "FH4-0.293"], "range": ["#ED7D31", "#5B9BD5", "#4472C4", "#FFC000", "#A5A5A5", "#70AD47"]}, "legend": null}, "shape": {"field": "s", "type": "nominal", "scale": {"domain": ["A-0.125", "A-0.166", "A-0.293", "FH4-0.125", "FH4-0.166", "FH4-0.293"], "range": ["circle", "circle", "circle", "triangle-up", "triangle-up", "triangle-up"]}, "legend": null}}},
{"data": {"name": "a"}, "mark": {"type": "point", "filled": true, "opacity": 0}, "encoding": {"color": {"field": "s", "type": "nominal", "scale": {"domain": ["A-0.125", "A-0.166", "A-0.293", "FH4-0.125", "FH4-0.166", "FH4-0.293"], "range": ["#ED7D31", "#5B9BD5", "#4472C4", "#FFC000", "#A5A5A5", "#70AD47"]}}, "shape": {"field": "s", "type": "nominal", "scale": {"domain": ["A-0.125", "A-0.166", "A-0.293", "FH4-0.125", "FH4-0.166", "FH4-0.293"], "range": ["M-1,-0.045H1V0.045H-1Z M-0.21,0A0.21,0.21,0,1,1,0.21,0A0.21,0.21,0,1,1,-0.21,0Z", "M-1,-0.045H1V0.045H-1Z M-0.21,0A0.21,0.21,0,1,1,0.21,0A0.21,0.21,0,1,1,-0.21,0Z", "M-1,-0.045H1V0.045H-1Z M-0.21,0A0.21,0.21,0,1,1,0.21,0A0.21,0.21,0,1,1,-0.21,0Z", "M-1,-0.045H1V0.045H-1Z M0,-0.26L0.24,0.16L-0.24,0.16Z", "M-1,-0.045H1V0.045H-1Z M0,-0.26L0.24,0.16L-0.24,0.16Z", "M-1,-0.045H1V0.045H-1Z M0,-0.26L0.24,0.16L-0.24,0.16Z"]}}}}
]
},
{
"width": 456, "height": 239,
"resolve": {"scale": {"color": "independent", "shape": "independent"}},
"encoding": {
"x": {"field": "x", "type": "quantitative", "scale": {"domain": [0, 0.5], "nice": false, "zero": false}, "axis": {"values": [0, 0.1, 0.2, 0.3, 0.4, 0.5], "format": ".1~f", "title": "Slip (mm)"}},
"y": {"field": "y", "type": "quantitative", "scale": {"domain": [0, 30], "nice": false}, "axis": {"values": [0, 5, 10, 15, 20, 25, 30], "title": "Shear stress (MPa)"}}
},
"layer": [
{"data": {"values": [{"x": 0.0186, "x2": 0.0954, "y": 22.09, "y2": 27.87}]}, "mark": {"type": "rect", "fill": "white", "stroke": "#404040", "strokeWidth": 1.5}, "encoding": {"x2": {"field": "x2"}, "y2": {"field": "y2"}}},
{"data": {"values": [{"x": 0.057, "y": 25.0, "t": "(b)"}]}, "mark": {"type": "text", "font": "Liberation Serif", "fontSize": 26, "color": "#262626", "align": "center", "baseline": "middle"}, "encoding": {"text": {"field": "t"}}},
{"data": {"name": "b"}, "mark": {"type": "line", "strokeWidth": 2}, "encoding": {"color": {"field": "s", "type": "nominal", "scale": {"domain": ["A-0.125", "A-0.166", "A-0.293", "FH4-0.125", "FH4-0.166", "FH4-0.293"], "range": ["#ED7D31", "#5B9BD5", "#4472C4", "#FFC000", "#A5A5A5", "#70AD47"]}, "legend": null}}},
{"data": {"name": "b"}, "mark": {"type": "point", "filled": true, "size": 45, "opacity": 1}, "encoding": {"color": {"field": "s", "type": "nominal", "scale": {"domain": ["A-0.125", "A-0.166", "A-0.293", "FH4-0.125", "FH4-0.166", "FH4-0.293"], "range": ["#ED7D31", "#5B9BD5", "#4472C4", "#FFC000", "#A5A5A5", "#70AD47"]}, "legend": null}, "shape": {"field": "s", "type": "nominal", "scale": {"domain": ["A-0.125", "A-0.166", "A-0.293", "FH4-0.125", "FH4-0.166", "FH4-0.293"], "range": ["circle", "circle", "circle", "triangle-up", "triangle-up", "triangle-up"]}, "legend": null}}},
{"data": {"name": "b"}, "mark": {"type": "point", "filled": true, "opacity": 0}, "encoding": {"color": {"field": "s", "type": "nominal", "scale": {"domain": ["A-0.125", "A-0.166", "A-0.293", "FH4-0.125", "FH4-0.166", "FH4-0.293"], "range": ["#ED7D31", "#5B9BD5", "#4472C4", "#FFC000", "#A5A5A5", "#70AD47"]}}, "shape": {"field": "s", "type": "nominal", "scale": {"domain": ["A-0.125", "A-0.166", "A-0.293", "FH4-0.125", "FH4-0.166", "FH4-0.293"], "range": ["M-1,-0.045H1V0.045H-1Z M-0.21,0A0.21,0.21,0,1,1,0.21,0A0.21,0.21,0,1,1,-0.21,0Z", "M-1,-0.045H1V0.045H-1Z M-0.21,0A0.21,0.21,0,1,1,0.21,0A0.21,0.21,0,1,1,-0.21,0Z", "M-1,-0.045H1V0.045H-1Z M-0.21,0A0.21,0.21,0,1,1,0.21,0A0.21,0.21,0,1,1,-0.21,0Z", "M-1,-0.045H1V0.045H-1Z M0,-0.26L0.24,0.16L-0.24,0.16Z", "M-1,-0.045H1V0.045H-1Z M0,-0.26L0.24,0.16L-0.24,0.16Z", "M-1,-0.045H1V0.045H-1Z M0,-0.26L0.24,0.16L-0.24,0.16Z"]}}}}
]
}
],
"spacing": 102,
"bounds": "flush",
"resolve": {"scale": {"color": "independent", "shape": "independent"}, "legend": {"color": "independent", "shape": "independent"}}
},
{
"hconcat": [
{
"width": 456, "height": 239,
"resolve": {"scale": {"color": "independent", "shape": "independent"}},
"encoding": {
"x": {"field": "x", "type": "quantitative", "scale": {"domain": [0, 0.4], "nice": false, "zero": false}, "axis": {"values": [0, 0.1, 0.2, 0.3, 0.4], "format": ".1~f", "title": "Slip (mm)"}},
"y": {"field": "y", "type": "quantitative", "scale": {"domain": [0, 30], "nice": false}, "axis": {"values": [0, 5, 10, 15, 20, 25, 30], "title": "Shear stress (MPa)"}}
},
"layer": [
{"data": {"values": [{"x": 0.014, "x2": 0.0772, "y": 22.1, "y2": 27.9}]}, "mark": {"type": "rect", "fill": "white", "stroke": "#404040", "strokeWidth": 1.5}, "encoding": {"x2": {"field": "x2"}, "y2": {"field": "y2"}}},
{"data": {"values": [{"x": 0.0456, "y": 25.0, "t": "(c)"}]}, "mark": {"type": "text", "font": "Liberation Serif", "fontSize": 26, "color": "#262626", "align": "center", "baseline": "middle"}, "encoding": {"text": {"field": "t"}}},
{"data": {"name": "c"}, "mark": {"type": "line", "strokeWidth": 2}, "encoding": {"color": {"field": "s", "type": "nominal", "scale": {"domain": ["A-0.125", "A-0.166", "A-0.293", "FH4-0.125", "FH4-0.166", "FH4-0.293"], "range": ["#ED7D31", "#5B9BD5", "#4472C4", "#FFC000", "#A5A5A5", "#70AD47"]}, "legend": null}}},
{"data": {"name": "c"}, "mark": {"type": "point", "filled": true, "size": 45, "opacity": 1}, "encoding": {"color": {"field": "s", "type": "nominal", "scale": {"domain": ["A-0.125", "A-0.166", "A-0.293", "FH4-0.125", "FH4-0.166", "FH4-0.293"], "range": ["#ED7D31", "#5B9BD5", "#4472C4", "#FFC000", "#A5A5A5", "#70AD47"]}, "legend": null}, "shape": {"field": "s", "type": "nominal", "scale": {"domain": ["A-0.125", "A-0.166", "A-0.293", "FH4-0.125", "FH4-0.166", "FH4-0.293"], "range": ["circle", "circle", "circle", "triangle-up", "triangle-up", "triangle-up"]}, "legend": null}}},
{"data": {"name": "c"}, "mark": {"type": "point", "filled": true, "opacity": 0}, "encoding": {"color": {"field": "s", "type": "nominal", "scale": {"domain": ["A-0.125", "A-0.166", "A-0.293", "FH4-0.125", "FH4-0.166", "FH4-0.293"], "range": ["#ED7D31", "#5B9BD5", "#4472C4", "#FFC000", "#A5A5A5", "#70AD47"]}}, "shape": {"field": "s", "type": "nominal", "scale": {"domain": ["A-0.125", "A-0.166", "A-0.293", "FH4-0.125", "FH4-0.166", "FH4-0.293"], "range": ["M-1,-0.045H1V0.045H-1Z M-0.21,0A0.21,0.21,0,1,1,0.21,0A0.21,0.21,0,1,1,-0.21,0Z", "M-1,-0.045H1V0.045H-1Z M-0.21,0A0.21,0.21,0,1,1,0.21,0A0.21,0.21,0,1,1,-0.21,0Z", "M-1,-0.045H1V0.045H-1Z M-0.21,0A0.21,0.21,0,1,1,0.21,0A0.21,0.21,0,1,1,-0.21,0Z", "M-1,-0.045H1V0.045H-1Z M0,-0.26L0.24,0.16L-0.24,0.16Z", "M-1,-0.045H1V0.045H-1Z M0,-0.26L0.24,0.16L-0.24,0.16Z", "M-1,-0.045H1V0.045H-1Z M0,-0.26L0.24,0.16L-0.24,0.16Z"]}}}}
]
},
{
"width": 540, "height": 239,
"encoding": {
"x": {"field": "x", "type": "quantitative", "scale": {"domain": [0, 100], "nice": false, "zero": false}, "axis": null},
"y": {"field": "y", "type": "quantitative", "scale": {"domain": [0, 100], "nice": false, "zero": false}, "axis": null}
},
"layer": [
{"data": {"values": [{"x": 21.9, "y": 66.9, "x2": 21.9, "y2": 32.2}, {"x": 21.9, "y": 32.2, "x2": 38.3, "y2": 32.2}, {"x": 29.9, "y": 66.9, "x2": 29.9, "y2": 53.1}, {"x": 29.9, "y": 53.1, "x2": 36.7, "y2": 53.1}]}, "mark": {"type": "rule", "color": "#404040", "strokeWidth": 1.3}, "encoding": {"x2": {"field": "x2"}, "y2": {"field": "y2"}}},
{"data": {"values": [{"x": 21.9, "y": 68.0}, {"x": 29.9, "y": 68.0}]}, "mark": {"type": "point", "shape": "triangle-up", "filled": true, "size": 40, "color": "#262626", "opacity": 1}},
{"data": {"values": [{"x": 2.2, "y": 74.1, "t": "Symbol : A – 0.5"}, {"x": 38.6, "y": 51.9, "t": "CFRP layer thickness (mm)"}, {"x": 39.5, "y": 28.9, "t": "Specimen group"}]}, "mark": {"type": "text", "font": "Liberation Serif", "fontSize": 24, "color": "#262626", "align": "left", "baseline": "alphabetic"}, "encoding": {"text": {"field": "t"}}}
]
}
],
"spacing": 22,
"bounds": "flush",
"resolve": {"scale": {"color": "independent", "shape": "independent", "x": "independent", "y": "independent"}, "legend": {"color": "independent", "shape": "independent"}}
}
],
"config": {
"view": {"stroke": null},
"axis": {"domain": false, "ticks": false, "grid": true, "gridColor": "#d9d9d9", "gridWidth": 1, "labelFont": "Liberation Serif", "labelFontSize": 16, "labelColor": "#404040", "titleFont": "Liberation Serif", "titleFontSize": 16, "titleFontWeight": "normal", "titleColor": "#404040", "labelFlush": false},
"axisX": {"labelPadding": 15, "titlePadding": 8},
"axisY": {"labelPadding": 14, "titlePadding": 10},
"legend": {"title": null, "orient": "top-right", "offset": -4, "padding": 2, "fillColor": "white", "labelFont": "Liberation Serif", "labelFontSize": 17, "labelColor": "#404040", "symbolSize": 1089, "symbolOpacity": 1, "symbolStrokeWidth": 0, "rowPadding": 4, "labelOffset": 2}
}
}
